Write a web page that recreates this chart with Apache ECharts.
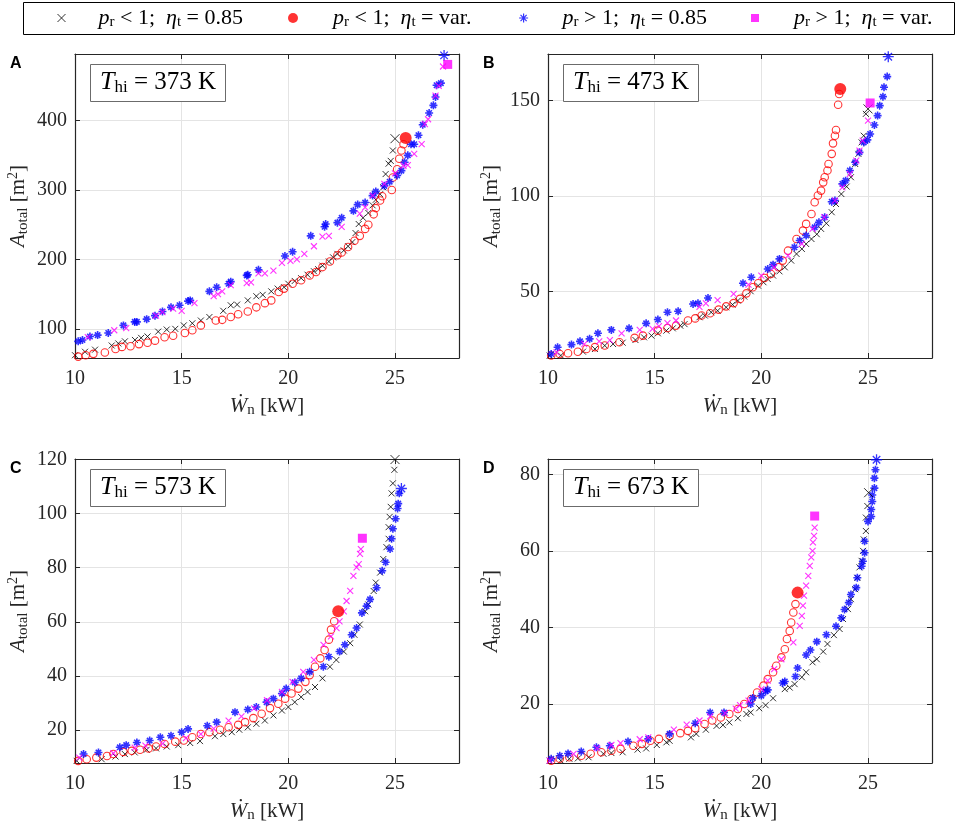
<!DOCTYPE html>
<html>
<head>
<meta charset="utf-8">
<script src="https://cdn.jsdelivr.net/npm/echarts@6/dist/echarts.min.js"></script>
<style>html,body{margin:0;padding:0;background:#fff}#c{width:957px;height:827px}</style>
</head>
<body>
<div id="c"></div>
<script>
// ---------- tick labels ----------
const xTicks = [10, 15, 20, 25];
const yTicksA = [100, 200, 300, 400];
const yTicksB = [50, 100, 150];
const yTicksC = [20, 40, 60, 80, 100, 120];
const yTicksD = [20, 40, 60, 80];
const panelLetters = ['A', 'B', 'C', 'D'];
const panelTemps = ['373', '473', '573', '673'];

// ---------- Panel A (T_hi = 373 K) ----------
const A_pl085 = [[10.0,62],[10.47,67],[10.94,70],[11.72,76],[12.03,79],[12.34,82],[12.81,84],[13.1,87],[13.4,89],[13.9,96],[14.3,99],[14.7,100],[15.1,105],[15.5,108],[15.9,112],[16.3,117],[16.95,126],[17.3,134],[17.6,135],[18.1,141],[18.5,147],[18.8,149],[19.2,154],[19.5,158],[19.8,160],[20.0,165],[20.3,169],[20.6,173],[20.9,178],[21.2,183],[21.4,186],[21.6,191],[21.9,197],[22.1,203],[22.3,208],[22.6,213],[22.8,219],[23.0,225],[23.15,238],[23.3,251],[23.5,260],[23.75,267],[23.95,278],[24.1,286],[24.3,294],[24.45,304],[24.56,323],[24.7,338],[24.8,342],[24.9,357],[25.0,374]];
const A_plvar = [[10.15,60],[10.5,62],[10.86,64],[11.4,66],[11.9,71],[12.2,74],[12.6,75],[13.0,78],[13.4,80],[13.75,83],[14.2,88],[14.6,90],[15.15,94],[15.5,98],[15.9,105],[16.6,112],[16.9,113],[17.3,117],[17.65,121],[18.1,125],[18.5,131],[18.9,137],[19.2,141],[19.55,153],[19.8,158],[20.2,165],[20.6,170],[21.0,177],[21.3,182],[21.6,189],[21.95,197],[22.3,206],[22.5,210],[22.8,218],[23.1,227],[23.35,234],[23.6,244],[23.75,250],[24.0,265],[24.1,274],[24.3,285],[24.4,291],[24.85,300],[24.9,318],[25.1,330],[25.2,345],[25.3,357],[25.4,366],[25.5,375]];
const A_pg085 = [[10.15,82],[10.35,84],[10.7,89],[11.06,91],[11.56,94],[12.27,105],[12.8,110],[12.9,110],[13.36,114],[13.75,119],[14.1,125],[14.5,131],[14.9,134],[15.3,140],[15.4,141],[16.3,154],[16.64,160],[17.2,165],[17.3,168],[18.05,177],[18.1,178],[18.6,185],[19.84,205],[20.2,211],[21.05,234],[21.7,247],[21.75,251],[22.3,253],[22.5,260],[23.05,270],[23.25,279],[23.6,282],[23.95,292],[24.1,298],[24.5,306],[24.75,312],[25.1,321],[25.3,328],[25.45,340],[25.6,350],[25.75,366],[25.9,366],[26.1,379],[26.3,394],[26.6,411],[26.8,422],[26.9,434],[26.95,451],[27.15,454],[27.3,494]];
const A_pgvar = [[10.6,88],[11.84,98],[12.4,101],[13.8,119],[14.1,124],[14.6,129],[15.0,126],[15.6,137],[16.5,147],[16.7,150],[16.9,154],[17.3,163],[18.05,166],[18.25,167],[18.6,180],[18.9,180],[19.3,184],[19.7,195],[20.1,198],[20.4,200],[20.75,208],[21.2,219],[21.6,233],[21.9,234],[22.5,247],[23.35,266],[23.6,275],[23.95,292],[24.5,309],[25.0,324],[25.4,335],[25.6,336],[25.9,352],[26.25,366],[26.4,395],[26.55,402],[26.9,436],[27.05,450],[27.25,478],[27.47,481]];

// ---------- Panel B (T_hi = 473 K) ----------
const B_pl085 = [[10.08,16.6],[10.6,16.6],[11.64,18.6],[12.2,20],[12.66,21.8],[13.05,22.6],[13.5,23.3],[14.1,24.7],[14.5,26.1],[14.85,27],[15.15,28.2],[15.55,29.6],[15.85,30.8],[16.2,32.2],[16.4,33],[17.1,36.6],[17.35,37.5],[17.65,39.2],[17.95,40],[18.35,41.8],[18.65,43.2],[18.9,45.3],[19.2,47.4],[19.5,50.2],[19.85,53.1],[20.1,54.9],[20.3,56.6],[20.55,58.4],[20.85,60.6],[21.1,62.7],[21.4,66.2],[21.65,69.7],[21.9,72.3],[22.1,74.9],[22.35,77.5],[22.6,80],[22.8,82.8],[23.05,85.7],[23.3,91.5],[23.5,95.8],[23.75,101],[24.0,104.9],[24.2,109.8],[24.4,116.7],[24.55,122],[24.7,128],[24.8,131.5],[24.9,142.9],[25.0,145.5]];
const B_plvar = [[10.15,16.6],[10.55,17.4],[10.94,17.8],[11.4,18.6],[11.8,20],[12.2,21],[12.66,21.8],[13.35,23.5],[14.06,25.8],[14.45,27],[15.15,29.6],[15.6,31],[16.0,32.2],[16.56,34.9],[16.9,36],[17.2,37.5],[17.6,38.7],[18.0,40.6],[18.35,42.3],[18.7,44],[19.0,46.2],[19.3,49.1],[19.6,52.3],[19.85,54.4],[20.15,57.1],[20.45,59.2],[20.8,62.7],[21.0,66.2],[21.25,71.4],[21.65,77.5],[21.95,81.9],[22.1,85.4],[22.35,90.6],[22.5,96.7],[22.65,100.2],[22.8,102.8],[22.9,107.1],[22.97,109.8],[23.1,113.3],[23.15,116.7],[23.3,122],[23.36,127.5],[23.45,131.5],[23.5,134.5],[23.6,147.7],[23.65,153.3],[23.7,155.9]];
const B_pg085 = [[10.15,17.4],[10.45,20.9],[11.1,22.3],[11.5,24],[11.95,25.3],[12.34,28.2],[12.97,30],[13.8,30.8],[14.6,33.4],[15.15,35.4],[15.6,39.2],[16.1,39.7],[16.8,43.5],[17.03,43.9],[17.5,46.7],[19.14,54.4],[19.53,57.5],[20.3,61.8],[20.55,64.1],[20.85,67.1],[21.55,73.2],[21.8,76.7],[22.1,79.3],[22.5,83.6],[22.7,86.2],[22.97,88.9],[23.3,97],[23.45,97.6],[23.8,106.3],[23.95,108],[24.15,113.3],[24.4,117.6],[24.6,122.8],[24.8,128],[24.97,129.3],[25.1,132.4],[25.3,137.1],[25.45,142],[25.55,147.2],[25.7,151.9],[25.75,156.8],[25.9,162.4],[25.95,172.8]];
const B_pgvar = [[10.4,18.2],[11.7,22.6],[12.4,24],[12.9,24.7],[13.45,28.2],[14.3,30],[14.9,30.5],[15.2,32],[15.6,33.5],[16.0,34.9],[17.1,42],[17.4,43.9],[17.95,45.5],[18.7,48.8],[19.4,53.7],[20.0,58.4],[20.6,62.7],[21.25,68.8],[21.9,74.9],[22.4,82.8],[22.95,88.9],[23.45,97.6],[23.8,104.5],[24.15,111.5],[24.45,118.5],[24.6,123.7],[24.75,128.9],[25.0,139.4],[25.1,148.6]];

// ---------- Panel C (T_hi = 573 K) ----------
const C_pl085 = [[10.08,8.6],[11.25,9.2],[11.9,10.2],[12.34,11.1],[12.8,11.7],[13.36,12.7],[13.8,13.2],[14.3,13.9],[14.84,14.4],[15.4,15.2],[15.86,15.9],[16.56,17.7],[16.95,18.5],[17.35,19.2],[17.7,20.1],[18.1,21],[18.5,22.3],[18.9,23.5],[19.3,25.4],[19.7,27.2],[20.0,28.5],[20.3,30.3],[20.6,32.2],[20.9,34.1],[21.25,35.9],[21.6,39.1],[21.95,43.4],[22.25,45.9],[22.6,49],[22.9,52.1],[23.1,55.2],[23.35,59],[23.6,63.9],[23.75,66.4],[24.0,71.4],[24.1,74.5],[24.3,78.2],[24.45,83.2],[24.6,87.6],[24.7,90.7],[24.7,95],[24.75,98.8],[24.8,102.5],[24.84,107.5],[24.9,111.2],[24.97,116.2],[25.0,120]];
const C_plvar = [[10.15,8.6],[10.55,9.2],[11.0,9.8],[11.5,10.4],[11.8,11.1],[12.27,11.9],[12.66,12.3],[13.05,12.7],[13.45,13.2],[13.8,13.9],[14.2,14.8],[14.7,15.7],[15.1,16.1],[15.5,17.3],[15.9,18.5],[16.3,19.2],[16.8,20.1],[17.2,21],[17.65,21.9],[17.97,22.9],[18.36,24.4],[18.75,26],[19.14,28.1],[19.53,29.7],[19.85,31.6],[20.15,33.5],[20.47,35.3],[20.8,37.8],[21.0,40.3],[21.25,43.4],[21.5,46.5],[21.7,49.6],[21.9,53.4],[22.0,57.1],[22.15,60.2],[22.34,63.9]];
const C_pg085 = [[10.4,11.1],[11.1,11.7],[12.1,13.6],[12.4,14.4],[12.9,15.4],[13.5,16.1],[14.0,17.3],[14.5,17.9],[15.0,19.2],[15.3,20.4],[16.2,21.6],[16.64,22.9],[17.5,26.6],[18.1,27.6],[18.5,28.5],[18.98,30.3],[19.3,31.6],[19.7,33.5],[19.9,35.3],[20.3,37.6],[20.6,39.1],[21.0,41.5],[21.64,43.4],[21.9,47.1],[22.4,49],[22.65,51.5],[22.97,55.2],[23.2,57.7],[23.45,63.3],[23.67,65.8],[23.83,68.3],[24.14,72.6],[24.4,78.9],[24.56,82],[24.77,86.9],[24.84,90.7],[24.9,94.4],[25.03,98.1],[25.12,101.9],[25.15,103.7],[25.2,107.5],[25.3,109.3]];
const C_pgvar = [[10.2,9.8],[11.8,11.4],[12.8,13.5],[13.3,14.2],[14.1,15],[15.2,17],[15.9,18.5],[16.5,20.5],[17.2,23.5],[17.8,25],[18.4,28],[19.0,31],[19.7,34.1],[20.2,37.8],[20.7,41.5],[21.2,45.9],[21.65,51.5],[22.0,54.6],[22.26,57.7],[22.4,60.2],[22.6,63.9],[22.73,67.7],[22.9,71.4],[23.05,77],[23.2,80.1],[23.3,81.3],[23.36,85.1],[23.4,86.9],[23.47,90.9]];

// ---------- Panel D (T_hi = 673 K) ----------
const D_pl085 = [[10.08,5.2],[10.6,5.2],[11.0,5.7],[11.4,5.8],[11.9,6.1],[12.6,7],[12.97,7.2],[13.5,7.4],[14.2,8.1],[14.6,8.4],[15.1,9.3],[15.55,10],[15.7,10.4],[16.7,11.3],[16.95,12.2],[17.4,13.3],[17.9,14.3],[18.2,14.5],[18.5,15.2],[18.9,16.3],[19.3,17.4],[19.5,17.8],[19.9,18.9],[20.2,19.7],[20.55,21.5],[21.1,23.9],[21.33,24.3],[21.56,25.2],[21.9,27],[22.1,28.3],[22.4,30.9],[22.6,31.7],[22.9,33.7],[23.1,35.7],[23.4,38],[23.67,39.6],[23.83,42.2],[24.06,44.8],[24.2,47.4],[24.4,50],[24.5,53],[24.6,55.7],[24.7,57.4],[24.77,60],[24.8,63],[24.9,65.2],[24.9,68.7],[24.97,71.7],[25.03,75.2]];
const D_plvar = [[10.15,5.2],[10.55,5.7],[11.0,6.1],[11.56,6.5],[12.0,7],[12.5,7.4],[12.97,7.8],[13.4,8.3],[14.0,9.1],[14.4,9.6],[14.8,10.4],[15.2,10.9],[15.7,11.7],[16.2,12.4],[16.56,13],[16.9,13.7],[17.34,14.8],[17.7,15.7],[18.1,16.5],[18.5,17.4],[18.9,18.7],[19.2,20],[19.53,21.3],[19.8,23],[20.1,24.8],[20.3,26.5],[20.55,28.3],[20.7,30],[20.94,32.2],[21.1,34.3],[21.2,37],[21.33,39.1],[21.4,41.3],[21.5,43.9],[21.6,46.1],[21.7,49.1]];
const D_pg085 = [[10.15,5.7],[10.55,6.5],[10.94,7.1],[11.56,7.6],[12.27,8.7],[12.9,9.1],[13.75,10.2],[14.7,10.9],[15.7,12.2],[16.9,15],[17.6,17.8],[18.25,17.8],[19.5,20],[19.6,21.6],[20.0,22.2],[20.2,23.3],[20.3,23.7],[21.0,25.5],[21.1,25.9],[21.6,27.2],[21.7,29.4],[22.1,32.8],[22.3,34.1],[22.6,36.3],[23.05,38.1],[23.5,40.3],[23.75,42.5],[23.9,44.7],[24.1,46.5],[24.2,48.6],[24.45,50.4],[24.5,53],[24.7,56],[24.76,57.3],[24.84,59.5],[24.84,62.5],[25.0,67.7],[25.15,69],[25.15,70.8],[25.2,72.9],[25.2,74.6],[25.3,76.4],[25.3,79],[25.35,81.2],[25.4,83.8]];
const D_pgvar = [[10.08,5.2],[11.2,7],[12.3,8.5],[12.97,9.3],[13.4,9.8],[14.3,10.8],[14.7,11.3],[15.9,13.3],[16.5,14.6],[17.1,15.7],[17.6,16.8],[18.3,17.6],[18.8,18.8],[19.0,19.7],[19.4,20.9],[20.0,23.9],[20.3,26.1],[20.6,29.1],[20.94,31.7],[21.5,36.1],[21.8,40.4],[21.9,43],[21.95,45.7],[22.0,48.3],[22.1,50.9],[22.2,53.5],[22.27,56.1],[22.34,58.3],[22.4,60],[22.42,62.2],[22.47,63.9],[22.5,66.1],[22.5,69.1]];

// ---------- assembly ----------
const panels = [
  {sets: [A_pl085, A_plvar, A_pg085, A_pgvar], yMin: 58, yMax: 496, yTicks: yTicksA, left: 75, top: 54},
  {sets: [B_pl085, B_plvar, B_pg085, B_pgvar], yMin: 15.3, yMax: 174.2, yTicks: yTicksB, left: 548, top: 54},
  {sets: [C_pl085, C_plvar, C_pg085, C_pgvar], yMin: 7.8, yMax: 120.2, yTicks: yTicksC, left: 75, top: 459},
  {sets: [D_pl085, D_plvar, D_pg085, D_pgvar], yMin: 4.6, yMax: 84, yTicks: yTicksD, left: 548, top: 459}
];
const PW = 384, PH = 304;
const AX = '#262626', GRID = '#e4e4e4';
const FF = 'Liberation Serif';
const CROSS = 'path://M0,0L10,10M10,0L0,10';
const STAR = 'path://M5,0L5,10M0,5L10,5M1.6,1.6L8.4,8.4M8.4,1.6L1.6,8.4';
const SQUARE = 'path://M0,0L10,0L10,10L0,10Z';

const names = ['pl085', 'plvar', 'pg085', 'pgvar'];
const styles = [
  {main: {symbol: CROSS, size: 6, itemStyle: {color: '#000', borderColor: '#000', borderWidth: 1}},
   end:  {symbol: CROSS, size: 9, itemStyle: {color: '#000', borderColor: '#000', borderWidth: 1}}},
  {main: {symbol: 'circle', size: 7.5, itemStyle: {color: 'rgba(0,0,0,0)', borderColor: '#ff0000', borderWidth: 1.1}},
   end:  {symbol: 'circle', size: 12, itemStyle: {color: '#ff0000', borderColor: '#ff0000', borderWidth: 0}}},
  {main: {symbol: STAR, size: 8, itemStyle: {color: '#0000ff', borderColor: '#0000ff', borderWidth: 1.6}},
   end:  {symbol: STAR, size: 11, itemStyle: {color: '#0000ff', borderColor: '#0000ff', borderWidth: 1.3}}},
  {main: {symbol: CROSS, size: 6, itemStyle: {color: '#ff00ff', borderColor: '#ff00ff', borderWidth: 1.1}},
   end:  {symbol: SQUARE, size: 9, itemStyle: {color: '#ff00ff', borderColor: '#ff00ff', borderWidth: 0}}}
];

const rich = {
  it: {fontFamily: FF, fontStyle: 'italic', fontWeight: 'normal', fontSize: 21, color: AX},
  rm: {fontFamily: FF, fontWeight: 'normal', fontSize: 21, color: AX},
  sub: {fontFamily: FF, fontWeight: 'normal', fontSize: 15, color: AX, padding: [9, 0, 0, 0]},
  sup: {fontFamily: FF, fontWeight: 'normal', fontSize: 14, color: AX, padding: [0, 0, 11, 0]}
};

const grid = [], xAxis = [], yAxis = [], series = [], title = [];
panels.forEach((p, i) => {
  grid.push({left: p.left, top: p.top, width: PW, height: PH, show: false});
  const tickStyle = {show: true, inside: true, length: 5, lineStyle: {color: AX, width: 1}};
  const lineStyle = {show: true, onZero: false, lineStyle: {color: AX, width: 1.2}};
  xAxis.push({
    type: 'value', gridIndex: i, min: 10, max: 28, interval: 5, position: 'bottom',
    axisLine: lineStyle,
    axisTick: Object.assign({customValues: xTicks}, tickStyle),
    axisLabel: {customValues: xTicks, margin: 11, color: AX, fontFamily: FF, fontSize: 20},
    splitLine: {show: true, lineStyle: {color: GRID, width: 1}},
    name: '{it|Ẇ}{sub|n}{rm| [kW]}', nameLocation: 'middle', nameGap: 36,
    nameTextStyle: {rich: rich}
  });
  xAxis.push({
    type: 'value', gridIndex: i, min: 10, max: 28, interval: 5, position: 'top',
    axisLine: lineStyle,
    axisTick: Object.assign({customValues: xTicks}, tickStyle),
    axisLabel: {show: false}, splitLine: {show: false}
  });
  yAxis.push({
    type: 'value', gridIndex: i, min: p.yMin, max: p.yMax, position: 'left',
    axisLine: lineStyle,
    axisTick: Object.assign({customValues: p.yTicks}, tickStyle),
    axisLabel: {customValues: p.yTicks, margin: 8, color: AX, fontFamily: FF, fontSize: 20},
    splitLine: {show: true, lineStyle: {color: GRID, width: 1}},
    name: '{it|A}{sub|total}{rm| [m}{sup|2}{rm|]}', nameLocation: 'middle', nameGap: 44,
    nameRotate: 90, nameTextStyle: {rich: rich}
  });
  yAxis.push({
    type: 'value', gridIndex: i, min: p.yMin, max: p.yMax, position: 'right',
    axisLine: lineStyle,
    axisTick: Object.assign({customValues: p.yTicks}, tickStyle),
    axisLabel: {show: false}, splitLine: {show: false}
  });
  p.sets.forEach((d, k) => {
    const st = styles[k];
    series.push({
      type: 'scatter', name: names[k], xAxisIndex: 2 * i, yAxisIndex: 2 * i,
      data: d.slice(0, -1), symbol: st.main.symbol, symbolSize: st.main.size,
      itemStyle: st.main.itemStyle, z: 2 + k, silent: true
    });
    series.push({
      type: 'scatter', name: names[k], xAxisIndex: 2 * i, yAxisIndex: 2 * i,
      data: d.slice(-1), symbol: st.end.symbol, symbolSize: st.end.size,
      itemStyle: st.end.itemStyle, z: 10, silent: true
    });
  });
  // panel letter
  title.push({
    text: panelLetters[i], left: p.left - 65, top: p.top + 2, padding: 0,
    textStyle: {fontFamily: 'Liberation Sans', fontWeight: 'bold', fontSize: 16, color: '#000'}
  });
  // temperature box
  title.push({
    text: '{it|T}{sub|hi}{rm| = ' + panelTemps[i] + ' K}',
    left: p.left + 15, top: p.top + 10,
    padding: [5, 10, 6, 10], borderColor: '#6b6b6b', borderWidth: 1, backgroundColor: '#fff',
    textStyle: {fontWeight: 'normal', rich: {
      it: {fontFamily: FF, fontStyle: 'italic', fontWeight: 'normal', fontSize: 26, color: '#000'},
      rm: {fontFamily: FF, fontWeight: 'normal', fontSize: 25, color: '#000'},
      sub: {fontFamily: FF, fontWeight: 'normal', fontSize: 17, color: '#000', padding: [10, 0, 0, 0]}
    }}
  });
});

const legRich = {
  it: {fontFamily: FF, fontStyle: 'italic', fontSize: 22, color: '#000'},
  rm: {fontFamily: FF, fontSize: 22, color: '#000'},
  sub: {fontFamily: FF, fontSize: 15, color: '#000', padding: [8, 0, 0, 0]}
};
const legendTexts = [
  '{it|p}{sub|r}{rm| < 1;  }{it|η}{sub|t}{rm| = 0.85}',
  '{it|p}{sub|r}{rm| < 1;  }{it|η}{sub|t}{rm| = var.}',
  '{it|p}{sub|r}{rm| > 1;  }{it|η}{sub|t}{rm| = 0.85}',
  '{it|p}{sub|r}{rm| > 1;  }{it|η}{sub|t}{rm| = var.}'
];
const legendIcons = [
  {icon: CROSS, w: 8, color: '#000', bw: 1, center: 61, textStart: 98},
  {icon: 'circle', w: 10, color: '#ff0000', bw: 0, center: 293, textStart: 333},
  {icon: STAR, w: 9, color: '#0000ff', bw: 1.2, center: 523, textStart: 562},
  {icon: SQUARE, w: 8, color: '#ff00ff', bw: 0, center: 755, textStart: 794}
];
const legend = legendIcons.map((L, k) => ({
  data: [{name: names[k], icon: L.icon,
          itemStyle: {color: L.color, borderColor: L.color, borderWidth: L.bw}}],
  left: L.center - L.w / 2, top: 7, padding: 0, orient: 'horizontal',
  itemWidth: L.w, itemHeight: L.w, selectedMode: false, z: 10,
  formatter: legendTexts[k],
  textStyle: {rich: legRich, padding: [0, 0, 0, L.textStart - (L.center - L.w / 2) - L.w - 5]}
}));

const chart = echarts.init(document.getElementById('c'), null, {renderer: 'canvas'});
chart.setOption({
  animation: false,
  backgroundColor: '#fff',
  graphic: [{type: 'rect', z: 0, shape: {x: 23.5, y: 2.5, width: 931, height: 32},
             style: {fill: '#fff', stroke: '#000', lineWidth: 1}}],
  legend: legend,
  title: title,
  grid: grid,
  xAxis: xAxis,
  yAxis: yAxis,
  series: series
});
</script>
</body>
</html>
